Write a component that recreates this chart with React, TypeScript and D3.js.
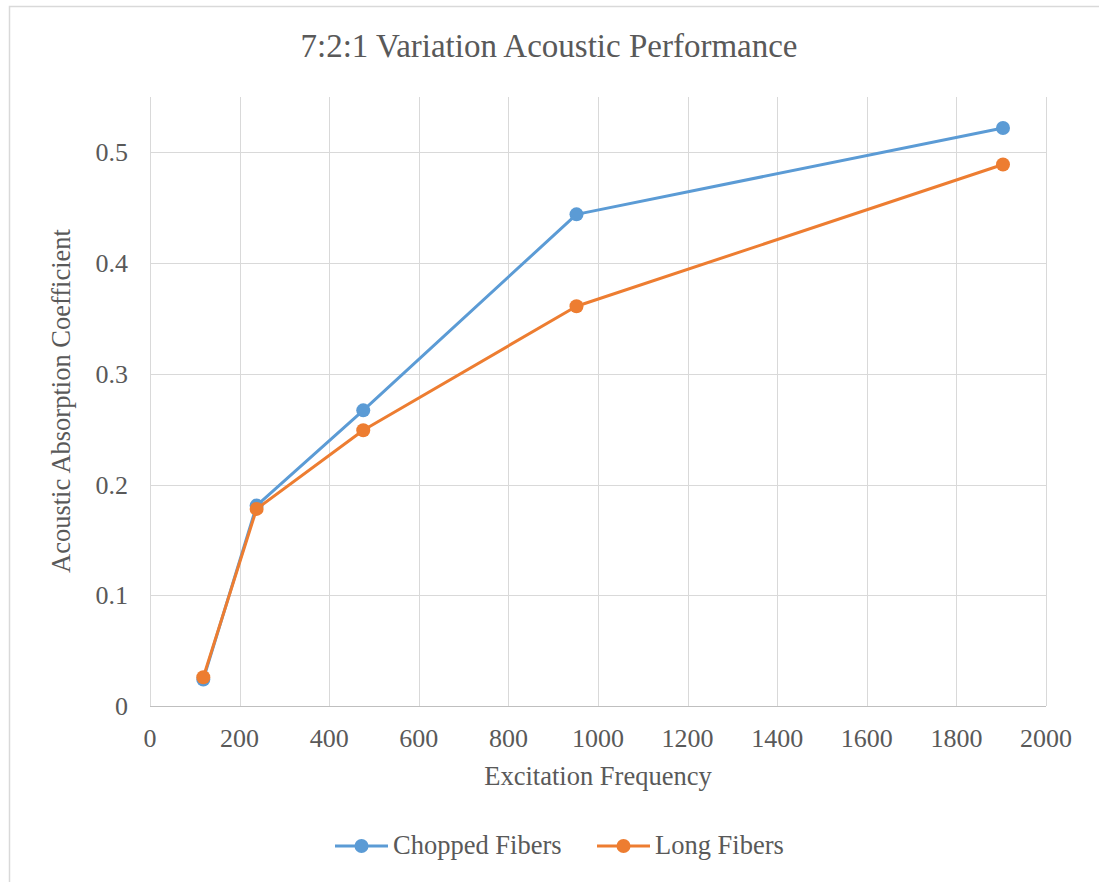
import * as d3 from 'd3';
import { useRef, useEffect } from 'react';

const frequencies = [119, 238, 476, 952, 1904];
const choppedFibers = [0.024, 0.181, 0.267, 0.444, 0.522];
const longFibers = [0.026, 0.178, 0.249, 0.361, 0.489];
const xTicks = [0, 200, 400, 600, 800, 1000, 1200, 1400, 1600, 1800, 2000];
const yTicks = [0, 0.1, 0.2, 0.3, 0.4, 0.5];

const seriesList = [
  { name: 'Chopped Fibers', values: choppedFibers, color: '#5B9BD5' },
  { name: 'Long Fibers', values: longFibers, color: '#ED7D31' },
];

const FONT = '"Liberation Serif", "Times New Roman", serif';
const TEXT = '#595959';
const GRID = '#D9D9D9';

export default function App() {
  const svgRef = useRef<SVGSVGElement>(null);

  useEffect(() => {
    if (!svgRef.current) return;
    const svg = d3.select(svgRef.current);
    svg.selectAll('*').remove();

    // chart frame
    svg.append('rect')
      .attr('x', 9.5).attr('y', 6.5)
      .attr('width', 1100).attr('height', 900)
      .attr('fill', '#fff').attr('stroke', GRID).attr('stroke-width', 1.5);

    const x = d3.scaleLinear().domain([0, 2000]).range([150, 1046]);
    const y = d3.scaleLinear().domain([0, 0.55]).range([706, 97]);

    // gridlines
    svg.append('g').selectAll('line').data(yTicks.slice(1)).join('line')
      .attr('x1', 150).attr('x2', 1046)
      .attr('y1', (d) => Math.round(y(d)) + 0.5).attr('y2', (d) => Math.round(y(d)) + 0.5)
      .attr('stroke', GRID).attr('stroke-width', 1);
    svg.append('g').selectAll('line').data(xTicks).join('line')
      .attr('x1', (d) => Math.round(x(d)) + 0.5).attr('x2', (d) => Math.round(x(d)) + 0.5)
      .attr('y1', 97).attr('y2', 706)
      .attr('stroke', GRID).attr('stroke-width', 1);
    // x axis line
    svg.append('line')
      .attr('x1', 150).attr('x2', 1046)
      .attr('y1', 706.5).attr('y2', 706.5)
      .attr('stroke', '#BFBFBF').attr('stroke-width', 1);

    // tick labels
    svg.append('g').selectAll('text').data(xTicks).join('text')
      .attr('x', (d) => x(d)).attr('y', 747)
      .attr('text-anchor', 'middle')
      .attr('font-family', FONT).attr('font-size', 26).attr('fill', TEXT)
      .text((d) => String(d));
    svg.append('g').selectAll('text').data(yTicks).join('text')
      .attr('x', 128).attr('y', (d) => y(d) + 9)
      .attr('text-anchor', 'end')
      .attr('font-family', FONT).attr('font-size', 26).attr('fill', TEXT)
      .text((d) => (d === 0 ? '0' : d3.format('.1f')(d)));

    // titles
    svg.append('text')
      .attr('x', 549).attr('y', 57).attr('text-anchor', 'middle')
      .attr('font-family', FONT).attr('font-size', 33).attr('fill', TEXT)
      .text('7:2:1 Variation Acoustic Performance');
    svg.append('text')
      .attr('x', 598).attr('y', 785).attr('text-anchor', 'middle')
      .attr('font-family', FONT).attr('font-size', 26.5).attr('fill', TEXT)
      .text('Excitation Frequency');
    svg.append('text')
      .attr('transform', 'translate(70,401) rotate(-90)')
      .attr('text-anchor', 'middle')
      .attr('font-family', FONT).attr('font-size', 26.5).attr('fill', TEXT)
      .text('Acoustic Absorption Coefficient');

    // series
    const line = d3.line<number>()
      .x((_, i) => x(frequencies[i]))
      .y((d) => y(d));

    seriesList.forEach((s) => {
      svg.append('path')
        .datum(s.values)
        .attr('fill', 'none')
        .attr('stroke', s.color)
        .attr('stroke-width', 3)
        .attr('stroke-linejoin', 'round')
        .attr('d', line);
      svg.append('g').selectAll('circle').data(s.values).join('circle')
        .attr('cx', (_, i) => x(frequencies[i]))
        .attr('cy', (d) => y(d))
        .attr('r', 7)
        .attr('fill', s.color);
    });

    // legend
    const legendX = [335, 597];
    seriesList.forEach((s, i) => {
      const lx = legendX[i];
      const g = svg.append('g');
      g.append('line')
        .attr('x1', lx).attr('x2', lx + 53)
        .attr('y1', 846).attr('y2', 846)
        .attr('stroke', s.color).attr('stroke-width', 3);
      g.append('circle')
        .attr('cx', lx + 26.5).attr('cy', 846).attr('r', 7).attr('fill', s.color);
      g.append('text')
        .attr('x', lx + 58).attr('y', 854)
        .attr('font-family', FONT).attr('font-size', 26.5).attr('fill', TEXT)
        .text(s.name);
    });
  }, []);

  return (
    <svg
      ref={svgRef}
      width={1099}
      height={882}
      style={{ position: 'absolute', left: 0, top: 0 }}
    />
  );
}
